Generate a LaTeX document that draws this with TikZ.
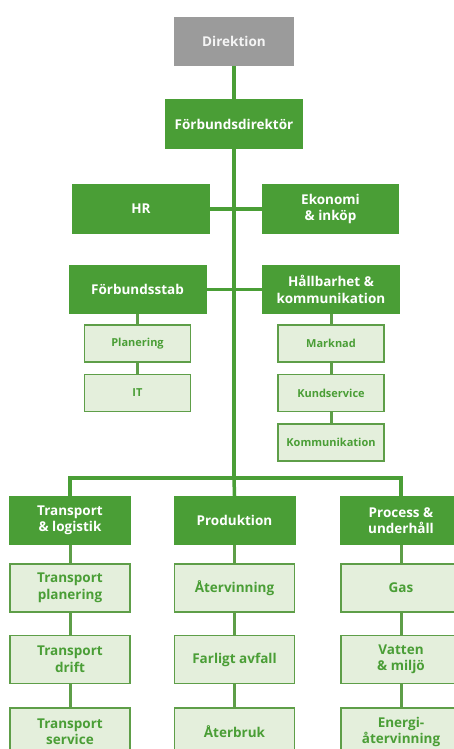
\documentclass[tikz,border=0pt]{standalone}
\usepackage{fontspec}
\setmainfont{Open Sans}
\usepackage{xcolor}
\usepackage{tikz}
\usetikzlibrary{positioning,calc}

\definecolor{orggreen}{HTML}{4A9E36}
\definecolor{orgline}{HTML}{5E9E48}
\definecolor{orglight}{HTML}{E4EFDC}
\definecolor{orggray}{HTML}{9B9B9B}

\begin{document}
\begin{tikzpicture}[x=1pt, y=-1pt, node distance=11pt,
    head/.style={rectangle, fill=orggreen, text=white, align=center, font=\bfseries\fontsize{13.5}{16.5}\selectfont, minimum width=138pt, minimum height=50pt, inner sep=0pt},
    board/.style={head, fill=orggray, text=white!92!gray, minimum width=120pt, minimum height=49pt},
    unit/.style={rectangle, draw=orgline, line width=1.5pt, fill=orglight, text=orggreen, align=center, font=\bfseries\fontsize{11}{13}\selectfont, minimum width=106pt, minimum height=37pt, inner sep=0pt},
    area/.style={head, minimum width=122pt, minimum height=49pt},
    sub/.style={unit, font=\bfseries\fontsize{13.5}{16.5}\selectfont, minimum width=120pt, minimum height=48pt},
    line/.style={draw=orggreen, line width=3.5pt},
    thin/.style={draw=orgline, line width=3pt}]
    \clip (0,0) rectangle (454,749);
    \fill[white] (0,0) rectangle (454,749);

    \node[board] (dir) at (234,41.5) {Direktion};
    \node[head] (fdir) at (234,124) {Förbundsdirektör};
    \node[head] (hr) at (141,209) {HR};
    \node[head, minimum width=137pt] (ekon) at (330.5,209) {Ekonomi\\ \& inköp};
    \node[head, minimum height=49pt] (stab) at (137.5,289.5) {Förbundsstab};
    \node[head, minimum height=49pt] (hallb) at (331,289.5) {Hållbarhet \&\\ kommunikation};

    \node[unit, below=10pt of stab] (plan) {Planering};
    \node[unit, below=of plan] (it) {IT};
    \node[unit, below=10pt of hallb] (mark) {Marknad};
    \node[unit, below=of mark] (kund) {Kundservice};
    \node[unit, below=of kund] (komm) {Kommunikation};

    \coordinate (bar) at (234,478);
    \node[area] (tl) at (70,520.5) {Transport\\ \& logistik};
    \node[area] (prod) at (234.5,520.5) {Produktion};
    \node[area] (proc) at (401,520.5) {Process \&\\ underhåll};

    \node[sub, below=18pt of tl] (tplan) {Transport\\ planering};
    \node[sub, below=22pt of tplan] (tdrift) {Transport\\ drift};
    \node[sub, below=23pt of tdrift] (tserv) {Transport\\ service};
    \node[sub, below=18pt of prod] (atv) {Återvinning};
    \node[sub, below=22pt of atv] (farl) {Farligt avfall};
    \node[sub, below=23pt of farl] (atb) {Återbruk};
    \node[sub, below=18pt of proc] (gas) {Gas};
    \node[sub, below=22pt of gas] (vatt) {Vatten\\ \& miljö};
    \node[sub, below=23pt of vatt] (energi) {Energi-\\ återvinning};

    % trunk and bar
    \draw[line] (dir.south) -- (fdir.north);
    \draw[line] (fdir.south) -- (bar);
    \draw[line] (hr.east) -- (ekon.west);
    \draw[line] (stab.east) -- (hallb.west);
    \draw[line] (tl.north) |- (bar) -| (proc.north);
    \draw[line] (bar) -- (prod.north);

    % units
    \draw[thin] (stab) -- (plan);
    \draw[thin] (plan) -- (it);
    \draw[thin] (hallb) -- (mark);
    \draw[thin] (mark) -- (kund);
    \draw[thin] (kund) -- (komm);
    \draw[thin] (tl) -- (tplan);
    \draw[thin] (tplan) -- (tdrift);
    \draw[thin] (tdrift) -- (tserv);
    \draw[thin] (prod) -- (atv);
    \draw[thin] (atv) -- (farl);
    \draw[thin] (farl) -- (atb);
    \draw[thin] (proc) -- (gas);
    \draw[thin] (gas) -- (vatt);
    \draw[thin] (vatt) -- (energi);
\end{tikzpicture}
\end{document}
